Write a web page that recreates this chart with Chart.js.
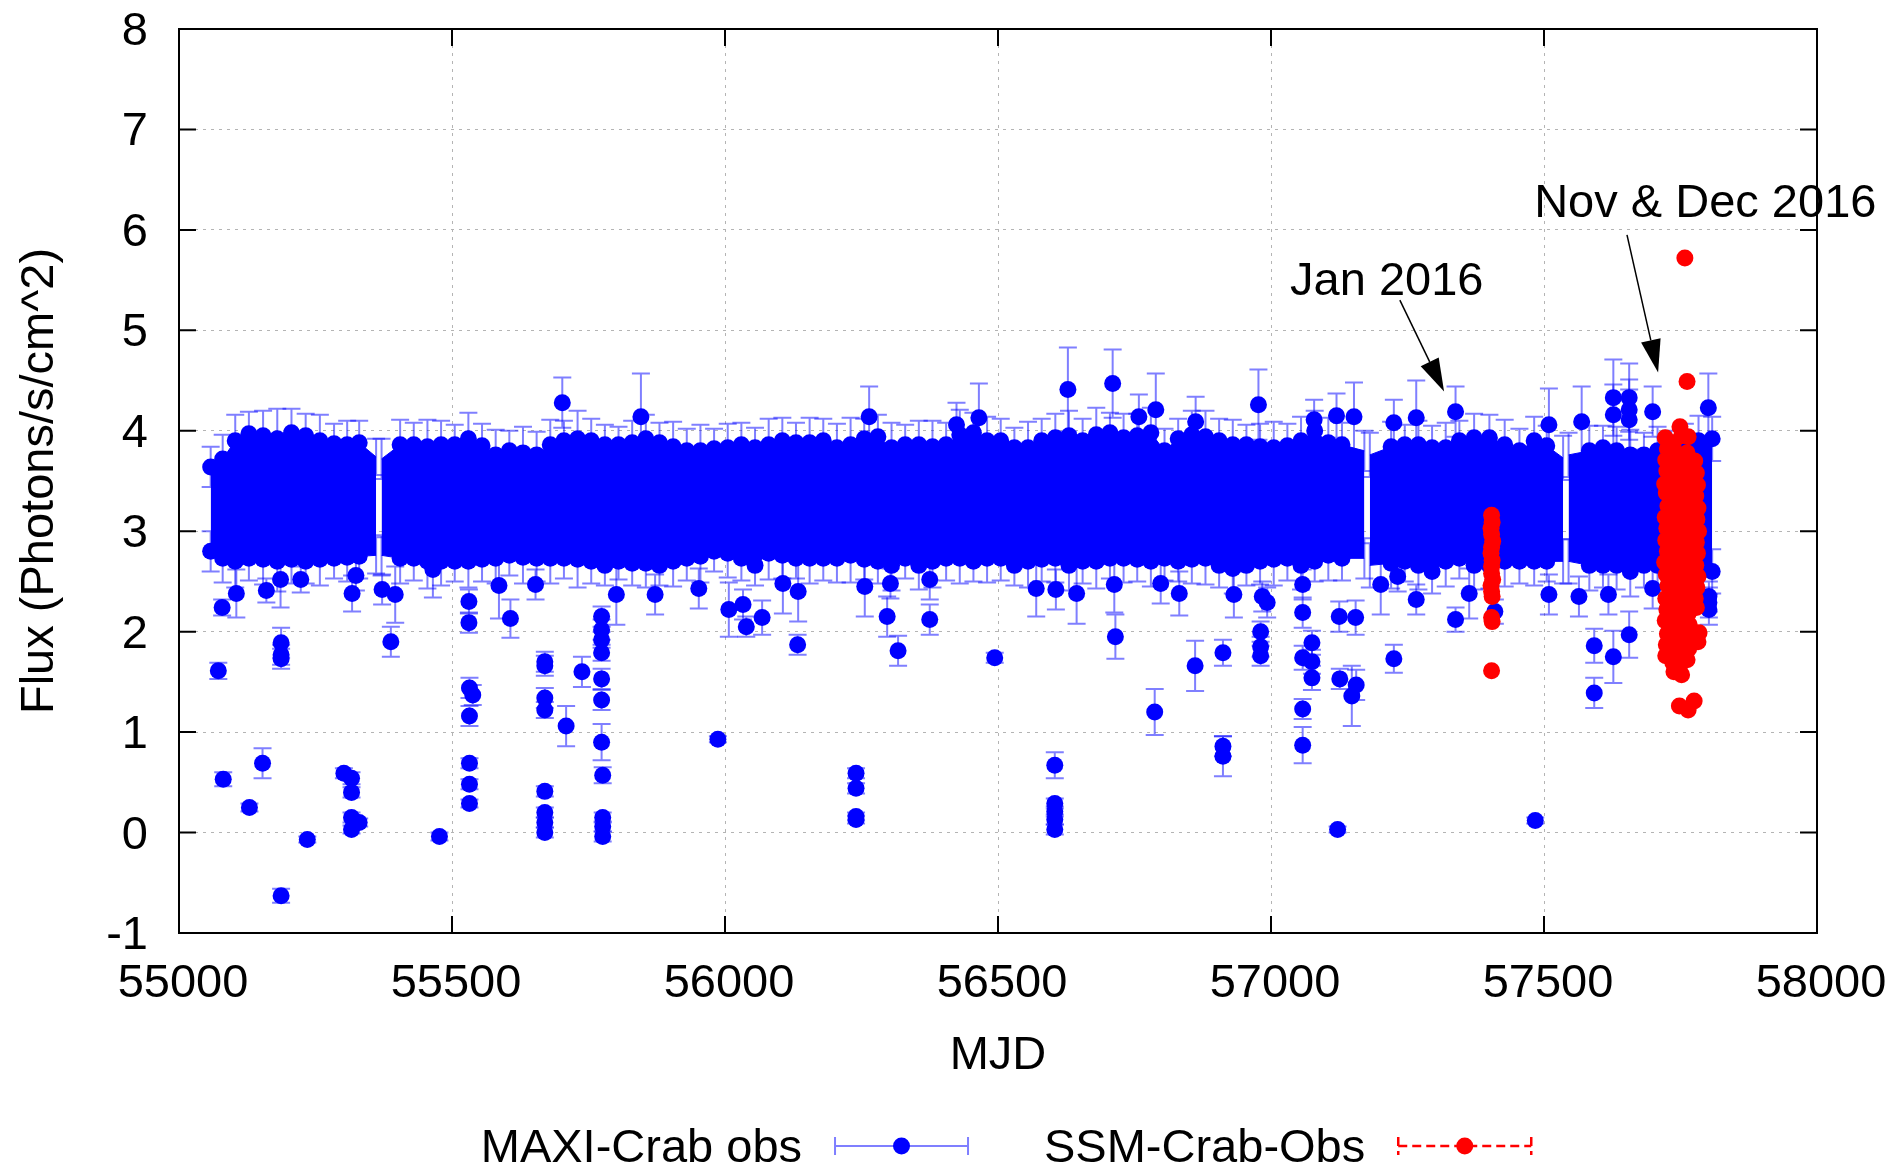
<!DOCTYPE html>
<html>
<head>
<meta charset="utf-8">
<script src="https://cdn.jsdelivr.net/npm/chart.js@4/dist/chart.umd.min.js"></script>
<style>
  html, body { margin: 0; padding: 0; background: #fff; }
</style>
</head>
<body>
<canvas id="crabChart" width="1896" height="1165"></canvas>
<script>
const mjdTicks = [55000, 55500, 56000, 56500, 57000, 57500, 58000];
const fluxTicks = [-1, 0, 1, 2, 3, 4, 5, 6, 7, 8];

// dense MAXI daily points: upper / lower edge of the band, null = gap in the data
const bandMjd = [
  55058, 55080, 55103, 55128, 55154, 55180, 55206, 55232, 55258, 55284, 55308, 55330, 55361,
  55366,
  55371, 55405, 55430, 55455, 55480, 55505, 55530, 55555, 55580, 55605,
  55630, 55655, 55680, 55705, 55730, 55755, 55780, 55805, 55830, 55855,
  55880, 55905, 55930, 55955, 55980, 56005, 56030, 56055, 56080, 56105,
  56130, 56155, 56180, 56205, 56230, 56255, 56280, 56305, 56330, 56355,
  56380, 56405, 56430, 56455, 56480, 56505, 56530, 56555, 56580, 56605,
  56630, 56655, 56680, 56705, 56730, 56755, 56780, 56805, 56830, 56855,
  56880, 56905, 56930, 56955, 56980, 57005, 57030, 57055, 57080, 57105,
  57130, 57171,
  57176,
  57181, 57220, 57245, 57270, 57295, 57320, 57345, 57372, 57400, 57428, 57455, 57482, 57505, 57535,
  57540,
  57545, 57583, 57608, 57633, 57658, 57683, 57708, 57733, 57758, 57783, 57808
];
const bandHigh = [
  3.64, 3.72, 3.90, 3.97, 3.95, 3.92, 3.98, 3.95, 3.90, 3.87, 3.86, 3.88, 3.74,
  null,
  3.72, 3.86, 3.86, 3.84, 3.86, 3.86, 3.92, 3.85, 3.76, 3.80,
  3.78, 3.76, 3.86, 3.90, 3.92, 3.90, 3.86, 3.86, 3.88, 3.92,
  3.88, 3.84, 3.80, 3.80, 3.82, 3.83, 3.86, 3.83, 3.86, 3.90,
  3.88, 3.88, 3.90, 3.83, 3.86, 3.92, 3.94, 3.83, 3.86, 3.86,
  3.84, 3.86, 3.96, 3.98, 3.90, 3.90, 3.83, 3.83, 3.90, 3.93,
  3.95, 3.90, 3.96, 3.98, 3.93, 3.95, 3.98, 3.80, 3.92, 3.96,
  3.94, 3.90, 3.86, 3.86, 3.84, 3.83, 3.85, 3.90, 4.00, 3.88,
  3.86, 3.80,
  null,
  3.76, 3.84, 3.86, 3.86, 3.83, 3.83, 3.90, 3.93, 3.93, 3.86, 3.80, 3.90, 3.85, 3.73,
  null,
  3.76, 3.80, 3.83, 3.80, 3.76, 3.76, 3.80, 3.80, 3.85, 3.90, 3.92
];
const bandLow = [
  2.80, 2.73, 2.70, 2.73, 2.72, 2.70, 2.72, 2.70, 2.72, 2.73, 2.74, 2.75, 2.76,
  null,
  2.76, 2.73, 2.73, 2.70, 2.70, 2.70, 2.70, 2.72, 2.73, 2.76,
  2.74, 2.73, 2.73, 2.73, 2.72, 2.70, 2.66, 2.70, 2.68, 2.68,
  2.66, 2.70, 2.73, 2.75, 2.80, 2.78, 2.73, 2.66, 2.78, 2.76,
  2.73, 2.73, 2.73, 2.73, 2.76, 2.72, 2.70, 2.66, 2.73, 2.66,
  2.70, 2.73, 2.73, 2.70, 2.73, 2.73, 2.66, 2.70, 2.72, 2.73,
  2.66, 2.70, 2.70, 2.73, 2.73, 2.72, 2.70, 2.73, 2.70, 2.72,
  2.73, 2.66, 2.63, 2.66, 2.70, 2.72, 2.73, 2.66, 2.70, 2.76,
  2.73, 2.73,
  null,
  2.66, 2.68, 2.70, 2.66, 2.60, 2.70, 2.73, 2.66, 2.66, 2.70, 2.70, 2.70, 2.70, 2.70,
  null,
  2.70, 2.66, 2.66, 2.66, 2.60, 2.66, 2.66, 2.66, 2.62, 2.60, 2.60
];
const bandErr = [
  0.20, 0.24, 0.26, 0.22, 0.25, 0.30, 0.24, 0.22, 0.26, 0.20, 0.24, 0.22, 0.18,
  null,
  0.20, 0.25, 0.22, 0.27, 0.24, 0.20, 0.26, 0.22, 0.25, 0.20,
  0.26, 0.23, 0.25, 0.20, 0.28, 0.22, 0.20, 0.18, 0.22, 0.24,
  0.20, 0.25, 0.22, 0.26, 0.20, 0.24, 0.22, 0.20, 0.26, 0.23,
  0.20, 0.25, 0.22, 0.24, 0.27, 0.20, 0.22, 0.25, 0.20, 0.24,
  0.26, 0.22, 0.25, 0.20, 0.24, 0.22, 0.20, 0.26, 0.22, 0.24,
  0.25, 0.22, 0.27, 0.20, 0.24, 0.22, 0.25, 0.22, 0.20, 0.24,
  0.26, 0.22, 0.25, 0.20, 0.23, 0.26, 0.22, 0.24, 0.20, 0.25,
  0.22, 0.20,
  null,
  0.22, 0.25, 0.20, 0.24, 0.22, 0.25, 0.20, 0.24, 0.23, 0.25, 0.22, 0.24, 0.20, 0.22,
  null,
  0.22, 0.25, 0.22, 0.24, 0.25, 0.22, 0.24, 0.20, 0.22, 0.25, 0.22
];

// MAXI points lying outside the dense band
const maxiMjd = [
  55072, 55081, 55079, 55105, 55129, 55153, 55160, 55187, 55187, 55187,
  55187, 55186, 55223, 55235, 55302, 55316, 55316, 55316, 55330, 55316,
  55317, 55324, 55372, 55388, 55396, 55465, 55477, 55531, 55531, 55532,
  55538, 55532, 55532, 55532, 55532, 55586, 55607, 55653, 55670, 55670,
  55670, 55670, 55670, 55670, 55670, 55670, 55702, 55709, 55738, 55774,
  55774, 55774, 55774, 55774, 55774, 55774, 55776, 55776, 55776, 55776,
  55801, 55846, 55872, 55952, 55987, 56007, 56033, 56039, 56068, 56106,
  56133, 56134, 56240, 56240, 56240, 56240, 56256, 56264, 56297, 56303,
  56317, 56375, 56375, 56424, 56465, 56494, 56570, 56604, 56604, 56604,
  56604, 56604, 56606, 56628, 56644, 56710, 56715, 56713, 56758, 56787,
  56789, 56798, 56832, 56861, 56862, 56912, 56912, 56912, 56932, 56977,
  56981, 56981, 56981, 56984, 56993, 57058, 57058, 57058, 57075, 57075,
  57075, 57058, 57058, 57079, 57120, 57122, 57125, 57126, 57148, 57152,
  57155, 57156, 57201, 57225, 57225, 57232, 57266, 57266, 57338, 57338,
  57363, 57410, 57484, 57509, 57509, 57564, 57569, 57592, 57592, 57618,
  57627, 57627, 57627, 57656, 57656, 57656, 57656, 57699, 57699, 57801,
  57802, 57802, 57802
];
const maxiFlux = [
  1.61, 0.53, 2.24, 2.38, 0.25, 0.69, 2.41, 1.89, 1.77, 1.73,
  -0.63, 2.52, 2.52, -0.07, 0.59, 0.54, 0.40, 0.15, 0.10, 0.03,
  2.38, 2.56, 2.42, 1.90, 2.37, 2.62, -0.04, 2.30, 2.09, 1.44,
  1.37, 1.16, 0.69, 0.48, 0.29, 2.46, 2.13, 2.47, 1.70, 1.66,
  1.34, 1.22, 0.41, 0.20, 0.10, 0.00, 4.28, 1.06, 1.60, 2.15,
  2.02, 1.92, 1.79, 1.53, 1.32, 0.90, 0.57, 0.15, 0.06, -0.04,
  2.37, 4.14, 2.37, 2.43, 0.93, 2.22, 2.27, 2.05, 2.14, 2.48,
  1.87, 2.40, 0.59, 0.44, 0.16, 0.13, 2.45, 4.14, 2.15, 2.48,
  1.81, 2.52, 2.12, 4.06, 4.13, 1.74, 2.43, 0.67, 0.29, 0.21,
  0.13, 0.03, 2.42, 4.41, 2.38, 4.47, 1.95, 2.47, 4.14, 1.20,
  4.21, 2.48, 2.38, 1.66, 4.09, 1.79, 0.86, 0.76, 2.37, 4.26,
  2.00, 1.85, 1.76, 2.35, 2.29, 2.47, 2.19, 1.74, 1.89, 1.70,
  1.54, 1.23, 0.87, 4.11, 4.15, 0.03, 2.15, 1.53, 1.36, 4.14,
  2.14, 1.47, 2.47, 4.08, 1.73, 2.55, 4.13, 2.32, 4.19, 2.12,
  2.38, 2.20, 0.12, 4.06, 2.37, 2.35, 4.09, 1.86, 1.39, 2.37,
  4.33, 4.16, 1.75, 4.33, 4.21, 4.11, 1.97, 4.19, 2.43, 4.23,
  2.35, 2.29, 2.22
];
const maxiErr = [
  0.08, 0.07, 0.08, 0.24, 0.04, 0.15, 0.12, 0.15, 0.10, 0.10,
  0.07, 0.28, 0.13, 0.03, 0.05, 0.06, 0.05, 0.05, 0.04, 0.04,
  0.18, 0.15, 0.15, 0.15, 0.28, 0.28, 0.04, 0.12, 0.10, 0.10,
  0.10, 0.10, 0.05, 0.05, 0.04, 0.33, 0.19, 0.15, 0.10, 0.10,
  0.10, 0.08, 0.05, 0.05, 0.05, 0.05, 0.25, 0.20, 0.15, 0.10,
  0.10, 0.08, 0.08, 0.10, 0.10, 0.18, 0.08, 0.05, 0.05, 0.05,
  0.30, 0.43, 0.20, 0.20, 0.03, 0.27, 0.15, 0.10, 0.17, 0.30,
  0.10, 0.30, 0.05, 0.05, 0.04, 0.04, 0.30, 0.30, 0.20, 0.15,
  0.15, 0.20, 0.15, 0.22, 0.34, 0.05, 0.28, 0.13, 0.05, 0.05,
  0.05, 0.05, 0.20, 0.42, 0.30, 0.34, 0.22, 0.28, 0.22, 0.23,
  0.36, 0.20, 0.22, 0.25, 0.25, 0.13, 0.10, 0.20, 0.23, 0.35,
  0.10, 0.10, 0.10, 0.15, 0.15, 0.15, 0.15, 0.12, 0.12, 0.12,
  0.12, 0.10, 0.18, 0.20, 0.22, 0.03, 0.15, 0.10, 0.30, 0.34,
  0.17, 0.15, 0.30, 0.23, 0.14, 0.15, 0.37, 0.15, 0.25, 0.12,
  0.25, 0.12, 0.03, 0.36, 0.20, 0.20, 0.35, 0.17, 0.15, 0.20,
  0.38, 0.30, 0.26, 0.34, 0.30, 0.30, 0.23, 0.25, 0.20, 0.34,
  0.15, 0.15, 0.15
];

// SSM points: Jan 2016 and Nov & Dec 2016
const ssmMjd = [
  57404, 57405, 57403, 57404, 57406, 57404, 57403, 57405, 57404, 57404, 57406, 57403, 57404, 57405, 57404, 57405, 57404,
  57722, 57726, 57723, 57725, 57721, 57724, 57727, 57722, 57725, 57723, 57726, 57721, 57724, 57727, 57723, 57725, 57722, 57726, 57724, 57723,
  57737, 57735, 57739, 57736, 57738, 57734, 57737, 57740, 57736, 57738, 57735, 57739, 57737, 57736, 57738, 57735, 57739, 57737, 57736, 57738,
  57749, 57752, 57750, 57748, 57751, 57753, 57749, 57750, 57752, 57748, 57751, 57750, 57753, 57749, 57751, 57750, 57752, 57748, 57750, 57751, 57749, 57752, 57748,
  57764, 57762, 57766, 57765, 57763, 57767, 57764, 57762, 57766, 57765, 57763, 57764, 57767, 57762, 57765, 57764, 57766, 57763, 57765, 57762, 57764,
  57776, 57779, 57781, 57778, 57782, 57780, 57783, 57779, 57781, 57778, 57782, 57780, 57777, 57779, 57784, 57782, 57775,
  57758, 57762
];
const ssmFlux = [
  3.16, 3.09, 3.03, 2.97, 2.90, 2.84, 2.78, 2.71, 2.65, 2.58, 2.52, 2.46, 2.40, 2.35, 2.14, 2.10, 1.61,
  3.93, 3.82, 3.71, 3.60, 3.47, 3.38, 3.25, 3.14, 3.03, 2.91, 2.80, 2.69, 2.57, 2.46, 2.33, 2.22, 2.11, 1.98, 1.87, 1.76,
  3.88, 3.66, 3.55, 3.43, 3.31, 3.20, 3.09, 2.97, 2.86, 2.74, 2.62, 2.51, 2.40, 2.28, 2.16, 2.05, 1.93, 1.81, 1.69, 1.60,
  4.04, 3.95, 3.76, 3.64, 3.52, 3.41, 3.29, 3.17, 3.06, 2.95, 2.83, 2.72, 2.60, 2.49, 2.37, 2.25, 2.13, 2.01, 1.90, 1.79, 1.67, 1.57, 1.26,
  3.94, 3.78, 3.67, 3.56, 3.44, 3.32, 3.21, 3.10, 2.98, 2.87, 2.75, 2.64, 2.53, 2.41, 2.30, 2.18, 2.07, 1.95, 1.83, 1.72, 1.22,
  3.70, 3.58, 3.46, 3.35, 3.23, 3.12, 3.00, 2.89, 2.78, 2.66, 2.55, 2.44, 2.33, 2.24, 1.99, 1.90, 1.31,
  5.72, 4.49
];

// labels with arrows, in data coordinates
const notes = [
  { text: 'Jan 2016', at: [57035, 5.35], from: [57236, 5.30], to: [57317, 4.39] },
  { text: 'Nov & Dec 2016', at: [57482, 6.13], from: [57652, 5.95], to: [57709, 4.58] }
];

[[bandHigh, 'bandHigh'], [bandLow, 'bandLow'], [bandErr, 'bandErr']].forEach(([a, n]) => {
  if (a.length !== bandMjd.length) throw new Error(n + ' has ' + a.length + ', bandMjd has ' + bandMjd.length);
});
[[maxiFlux, 'maxiFlux'], [maxiErr, 'maxiErr']].forEach(([a, n]) => {
  if (a.length !== maxiMjd.length) throw new Error(n + ' has ' + a.length + ', maxiMjd has ' + maxiMjd.length);
});
if (ssmFlux.length !== ssmMjd.length) throw new Error('ssmFlux has ' + ssmFlux.length + ', ssmMjd has ' + ssmMjd.length);

const FONT_FAMILY = '"Liberation Sans", Arial, sans-serif';
const FONT = '47px ' + FONT_FAMILY;
const blue = '#0000ff';
const red = '#ff0000';
const errBlue = 'rgba(0, 0, 255, 0.5)';
const dotR = 8.5;

Chart.defaults.font.family = FONT_FAMILY;
Chart.defaults.color = '#000';

// band points next to a data gap get no dot, so the gap stays open
const besideGap = i => bandHigh[i - 1] === null || bandHigh[i + 1] === null;
const bandRadius = c => (besideGap(c.dataIndex) ? 0 : dotR);

// vertical error bars with caps, drawn under the points
const errorBarPlugin = {
  id: 'errorBars',
  beforeDatasetsDraw(chart) {
    const { ctx, chartArea: a, scales: { y } } = chart;
    ctx.save();
    ctx.beginPath();
    ctx.rect(a.left, a.top, a.right - a.left, a.bottom - a.top);
    ctx.clip();
    chart.data.datasets.forEach((ds, di) => {
      if (!ds.errorColor) return;
      const meta = chart.getDatasetMeta(di);
      ctx.strokeStyle = ds.errorColor;
      ctx.lineWidth = 2;
      meta.data.forEach((pt, i) => {
        const d = ds.data[i];
        if (d.y == null || !d.e) return;
        const top = y.getPixelForValue(d.y + d.e);
        const bot = y.getPixelForValue(d.y - d.e);
        ctx.beginPath();
        ctx.moveTo(pt.x, top); ctx.lineTo(pt.x, bot);
        ctx.moveTo(pt.x - 9, top); ctx.lineTo(pt.x + 9, top);
        ctx.moveTo(pt.x - 9, bot); ctx.lineTo(pt.x + 9, bot);
        ctx.stroke();
      });
    });
    ctx.restore();
  }
};

// gnuplot style border with inward ticks on all four sides
const framePlugin = {
  id: 'frame',
  afterDatasetsDraw(chart) {
    const { ctx, chartArea: a, scales: { x, y } } = chart;
    ctx.save();
    ctx.strokeStyle = '#000';
    ctx.lineWidth = 2;
    ctx.strokeRect(a.left, a.top, a.right - a.left, a.bottom - a.top);
    ctx.beginPath();
    x.ticks.forEach(t => {
      const px = x.getPixelForValue(t.value);
      ctx.moveTo(px, a.bottom); ctx.lineTo(px, a.bottom - 17);
      ctx.moveTo(px, a.top); ctx.lineTo(px, a.top + 17);
    });
    y.ticks.forEach(t => {
      const py = y.getPixelForValue(t.value);
      ctx.moveTo(a.left, py); ctx.lineTo(a.left + 17, py);
      ctx.moveTo(a.right, py); ctx.lineTo(a.right - 17, py);
    });
    ctx.stroke();
    ctx.restore();
  }
};

const notePlugin = {
  id: 'notes',
  afterDraw(chart) {
    const { ctx, scales: { x, y } } = chart;
    ctx.save();
    ctx.font = FONT;
    ctx.fillStyle = '#000';
    ctx.strokeStyle = '#000';
    ctx.textAlign = 'left';
    ctx.textBaseline = 'alphabetic';
    notes.forEach(n => {
      ctx.fillText(n.text, x.getPixelForValue(n.at[0]), y.getPixelForValue(n.at[1]));
      const x0 = x.getPixelForValue(n.from[0]), y0 = y.getPixelForValue(n.from[1]);
      const x1 = x.getPixelForValue(n.to[0]), y1 = y.getPixelForValue(n.to[1]);
      const ang = Math.atan2(y1 - y0, x1 - x0);
      const len = 33, half = 10;
      const bx = x1 - len * Math.cos(ang), by = y1 - len * Math.sin(ang);
      ctx.lineWidth = 1.5;
      ctx.beginPath();
      ctx.moveTo(x0, y0); ctx.lineTo(bx, by);
      ctx.stroke();
      ctx.beginPath();
      ctx.moveTo(x1, y1);
      ctx.lineTo(bx + half * Math.sin(ang), by - half * Math.cos(ang));
      ctx.lineTo(bx - half * Math.sin(ang), by + half * Math.cos(ang));
      ctx.closePath();
      ctx.fill();
    });
    ctx.restore();
  }
};

// key under the plot: text first, then the sample (gnuplot layout)
const keyPlugin = {
  id: 'key',
  afterDraw(chart) {
    const { ctx, chartArea: a } = chart;
    const items = chart.data.datasets.filter(d => d.keyOrder != null).sort((p, q) => p.keyOrder - q.keyOrder);
    ctx.save();
    ctx.font = FONT;
    const sampleW = 133, gap = 33, itemGap = 76;
    const widths = items.map(d => ctx.measureText(d.label).width + gap + sampleW);
    const total = widths.reduce((s, w) => s + w, 0) + itemGap * (items.length - 1);
    let x = (a.left + a.right) / 2 - total / 2 + 8;
    const y = a.bottom + 213;
    items.forEach((d, i) => {
      const tw = ctx.measureText(d.label).width;
      ctx.fillStyle = '#000';
      ctx.textAlign = 'left';
      ctx.textBaseline = 'middle';
      ctx.fillText(d.label, x, y + 3);
      const s0 = x + tw + gap, s1 = s0 + sampleW, mid = (s0 + s1) / 2;
      ctx.strokeStyle = d.keyLine;
      ctx.lineWidth = d.keyDash ? 2.5 : 2;
      ctx.setLineDash(d.keyDash || []);
      ctx.beginPath();
      ctx.moveTo(s0, y); ctx.lineTo(s1, y);
      ctx.moveTo(s0, y - 9); ctx.lineTo(s0, y + 9);
      ctx.moveTo(s1, y - 9); ctx.lineTo(s1, y + 9);
      ctx.stroke();
      ctx.setLineDash([]);
      ctx.fillStyle = d.pointBackgroundColor;
      ctx.beginPath();
      ctx.arc(mid, y, dotR, 0, Math.PI * 2);
      ctx.fill();
      x += widths[i] + itemGap;
    });
    ctx.restore();
  }
};

const pts = (xs, ys, es) => xs.map((m, i) => ({ x: m, y: ys[i], e: es ? es[i] : 0 }));

new Chart(document.getElementById('crabChart'), {
  type: 'line',
  data: {
    datasets: [
      {
        label: 'SSM-Crab-Obs',
        data: pts(ssmMjd, ssmFlux),
        showLine: false,
        pointRadius: dotR,
        pointBackgroundColor: red,
        pointBorderWidth: 0,
        order: 0,
        keyOrder: 2,
        keyLine: red,
        keyDash: [9, 5]
      },
      {
        label: 'MAXI-Crab obs',
        data: pts(maxiMjd, maxiFlux, maxiErr),
        showLine: false,
        pointRadius: dotR,
        pointBackgroundColor: blue,
        pointBorderWidth: 0,
        errorColor: errBlue,
        order: 1,
        keyOrder: 1,
        keyLine: errBlue
      },
      {
        label: 'MAXI band top',
        data: pts(bandMjd, bandHigh, bandErr),
        showLine: true,
        fill: '+1',
        backgroundColor: blue,
        borderColor: blue,
        borderWidth: 1,
        pointRadius: bandRadius,
        pointBackgroundColor: blue,
        pointBorderWidth: 0,
        errorColor: errBlue,
        order: 2
      },
      {
        label: 'MAXI band bottom',
        data: pts(bandMjd, bandLow, bandErr),
        showLine: true,
        fill: false,
        borderColor: blue,
        borderWidth: 1,
        pointRadius: bandRadius,
        pointBackgroundColor: blue,
        pointBorderWidth: 0,
        errorColor: errBlue,
        order: 3
      }
    ]
  },
  options: {
    responsive: false,
    animation: false,
    events: [],
    spanGaps: false,
    layout: { padding: { top: 29, right: 79, bottom: 0, left: 0 } },
    plugins: {
      legend: { display: false },
      tooltip: { enabled: false }
    },
    scales: {
      x: {
        type: 'linear',
        min: 55000,
        max: 58000,
        afterBuildTicks: s => { s.ticks = mjdTicks.map(v => ({ value: v })); },
        afterFit: s => { s.height = 232; },
        ticks: {
          callback: v => String(v),
          font: { size: 47 },
          color: '#000',
          padding: 0,
          labelOffset: 4,
          maxRotation: 0,
          autoSkip: false
        },
        // invisible tick marks only push the labels away from the axis
        grid: { color: '#b4b4b4', lineWidth: 1, drawTicks: true, tickLength: 23, tickColor: 'rgba(0,0,0,0)' },
        border: { display: false, dash: [3, 5] },
        title: {
          display: true,
          text: 'MJD',
          font: { size: 47 },
          color: '#000',
          padding: { top: 0, bottom: 81 }
        }
      },
      y: {
        type: 'linear',
        min: -1,
        max: 8,
        afterBuildTicks: s => { s.ticks = fluxTicks.map(v => ({ value: v })); },
        afterFit: s => { s.width = 179; },
        ticks: {
          font: { size: 47 },
          color: '#000',
          padding: 0,
          labelOffset: 3
        },
        grid: { color: '#b4b4b4', lineWidth: 1, drawTicks: true, tickLength: 31, tickColor: 'rgba(0,0,0,0)' },
        border: { display: false, dash: [3, 5] },
        title: {
          display: true,
          text: 'Flux (Photons/s/cm^2)',
          font: { size: 47 },
          color: '#000',
          padding: { top: 12, bottom: 0 }
        }
      }
    }
  },
  plugins: [errorBarPlugin, framePlugin, notePlugin, keyPlugin]
});
</script>
</body>
</html>
